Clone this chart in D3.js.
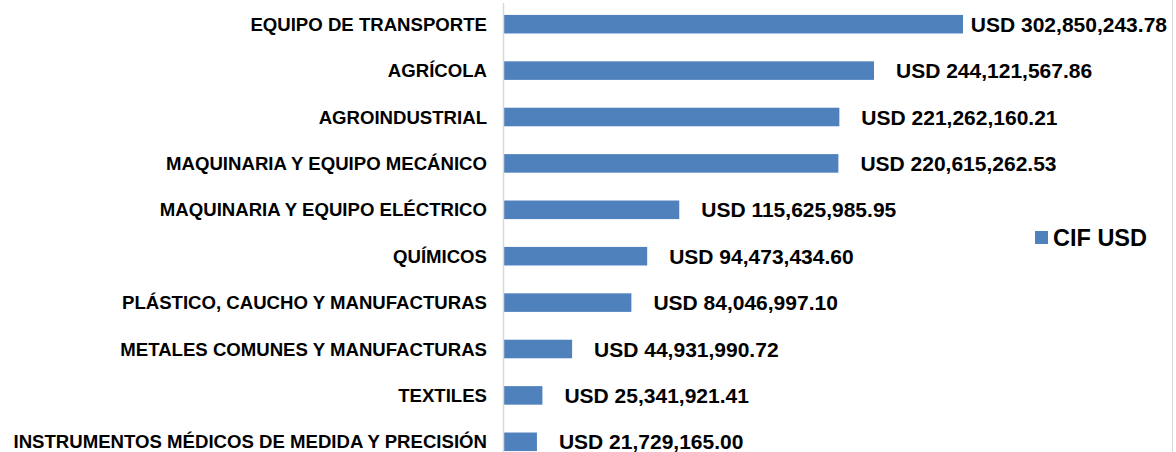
<!DOCTYPE html>
<html>
<head>
<meta charset="utf-8">
<script src="https://cdn.jsdelivr.net/npm/d3@7"></script>
<style>
  body { margin: 0; background: #fff; }
  text { font-family: "Liberation Sans", Arial, sans-serif; font-weight: bold; fill: #000; }
</style>
</head>
<body>
<div id="chart"></div>
<script>
var width = 1176;
var height = 452;

// data
var categories = [
  "EQUIPO DE TRANSPORTE",
  "AGRÍCOLA",
  "AGROINDUSTRIAL",
  "MAQUINARIA Y EQUIPO MECÁNICO",
  "MAQUINARIA Y EQUIPO ELÉCTRICO",
  "QUÍMICOS",
  "PLÁSTICO, CAUCHO Y MANUFACTURAS",
  "METALES COMUNES Y MANUFACTURAS",
  "TEXTILES",
  "INSTRUMENTOS MÉDICOS DE MEDIDA Y PRECISIÓN"
];
var values = [302850243.78, 244121567.86, 221262160.21, 220615262.53, 115625985.95,
  94473434.60, 84046997.10, 44931990.72, 25341921.41, 21729165.00];
var valueLabels = ["USD 302,850,243.78", "USD 244,121,567.86", "USD 221,262,160.21",
  "USD 220,615,262.53", "USD 115,625,985.95", "USD 94,473,434.60", "USD 84,046,997.10",
  "USD 44,931,990.72", "USD 25,341,921.41", "USD 21,729,165.00"];
var seriesName = "CIF USD";

var svg = d3.select("#chart")
  .append("svg")
  .attr("width", width)
  .attr("height", height);

var x = d3.scaleLinear().domain([0, 300000000]).range([504, 958.7]);
var y = d3.scaleBand().domain(categories).range([1, 465]).paddingInner(0.6).paddingOuter(0.3);

//bars
svg.selectAll("rect.bar")
  .data(values)
  .enter()
  .append("rect")
  .attr("class", "bar")
  .attr("x", x(0))
  .attr("y", function(d, i) { return y(categories[i]); })
  .attr("width", function(d) { return x(d) - x(0); })
  .attr("height", y.bandwidth())
  .attr("fill", "#4f81bd");

// vertical axis line
svg.append("line")
  .attr("x1", 503.5).attr("x2", 503.5)
  .attr("y1", 3).attr("y2", height)
  .attr("stroke", "#d9d9d9")
  .attr("stroke-width", 1.5);

// right frame edge
svg.append("line")
  .attr("x1", 1172.5).attr("x2", 1172.5)
  .attr("y1", 0).attr("y2", height)
  .attr("stroke", "#d9d9d9")
  .attr("stroke-width", 1);

// category labels
svg.selectAll("text.cat")
  .data(categories)
  .enter()
  .append("text")
  .attr("class", "cat")
  .attr("x", 487)
  .attr("y", function(d) { return y(d) + y.bandwidth() / 2; })
  .attr("dy", "0.36em")
  .attr("text-anchor", "end")
  .style("font-size", "18.6px")
  .text(function(d) { return d; });

// value labels
svg.selectAll("text.val")
  .data(values)
  .enter()
  .append("text")
  .attr("class", "val")
  .attr("x", function(d) { return x(d) + 22; })
  .attr("y", function(d, i) { return y(categories[i]) + y.bandwidth() / 2; })
  .attr("dy", "0.36em")
  .style("font-size", "21px")
  .text(function(d, i) { return valueLabels[i]; })
  .each(function() {
    // keep inside the plot like excel does
    var w = this.getComputedTextLength();
    var xx = +d3.select(this).attr("x");
    if (xx + w > 1167) d3.select(this).attr("x", 1167 - w);
  });

// legend
var legend = svg.append("g").attr("transform", "translate(1035,231)");
legend.append("rect").attr("width", 13).attr("height", 13).attr("fill", "#4f81bd");
legend.append("text")
  .attr("x", 18)
  .attr("y", 6.5)
  .attr("dy", "0.36em")
  .style("font-size", "23.5px")
  .text(seriesName);
</script>
</body>
</html>
